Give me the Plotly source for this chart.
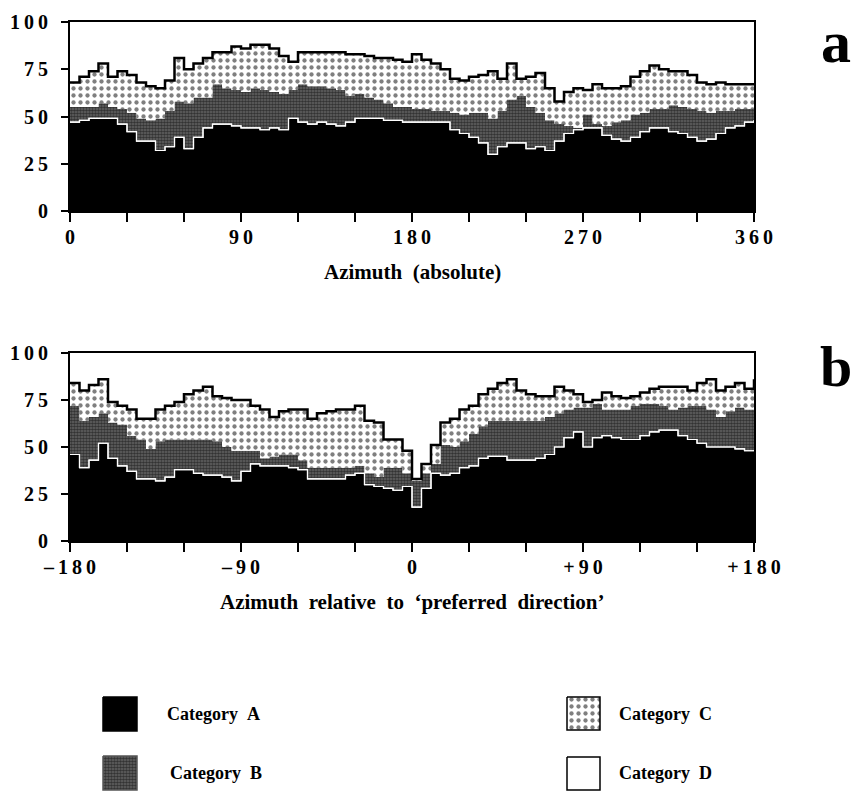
import plotly.graph_objects as go

# ---------------- data (percent) ----------------
# Panel a: absolute azimuth, 5-degree bins
deg_a = list(range(0, 361, 5))
# cumulative upper edge of Category A
a_upper_A = [47, 48, 49, 49, 49, 46, 42, 37, 37, 32, 34, 39, 33, 39, 44, 46, 46, 45, 44, 44,
             43, 44, 43, 49, 47, 46, 47, 46, 45, 47, 49, 49, 49, 48, 48, 47, 47, 47, 47, 47,
             43, 41, 39, 36, 30, 34, 36, 36, 33, 34, 32, 37, 41, 43, 44, 44, 40, 38, 37, 39,
             42, 44, 44, 42, 41, 39, 37, 38, 41, 44, 45, 47, 48]
# cumulative upper edge of Category A + B
a_upper_B = [55, 55, 55, 57, 55, 54, 52, 49, 48, 49, 53, 58, 57, 60, 60, 67, 65, 64, 63, 65,
             64, 63, 62, 64, 67, 66, 66, 65, 64, 61, 62, 60, 59, 57, 55, 55, 54, 54, 53, 53,
             52, 51, 52, 52, 49, 53, 59, 61, 55, 52, 48, 46, 45, 44, 51, 46, 45, 47, 48, 51,
             52, 54, 54, 56, 55, 54, 53, 52, 53, 53, 54, 54, 54]
# cumulative upper edge of Category A + B + C
a_upper_C = [68, 71, 74, 78, 71, 74, 72, 68, 66, 65, 69, 81, 75, 78, 81, 84, 84, 87, 86, 88,
             88, 86, 82, 79, 84, 84, 84, 84, 84, 83, 83, 82, 81, 81, 80, 79, 83, 80, 78, 75,
             70, 69, 71, 72, 74, 70, 78, 70, 71, 73, 65, 58, 63, 65, 64, 67, 65, 65, 66, 71,
             74, 77, 75, 74, 74, 72, 68, 67, 68, 67, 67, 67, 67]

# Panel b: azimuth relative to preferred direction, 5-degree bins
deg_b = list(range(-180, 181, 5))
b_upper_A = [46, 39, 43, 52, 44, 40, 37, 33, 33, 32, 34, 38, 38, 36, 35, 35, 34, 32, 37, 41,
             40, 40, 40, 39, 38, 33, 33, 33, 33, 35, 36, 30, 29, 28, 27, 29, 18, 28, 36, 35,
             36, 39, 40, 44, 45, 45, 43, 43, 43, 44, 46, 50, 55, 58, 50, 55, 56, 55, 54, 54,
             56, 58, 59, 59, 56, 54, 52, 50, 50, 50, 49, 48, 48]
b_upper_B = [72, 64, 66, 68, 63, 62, 56, 54, 49, 53, 54, 54, 54, 54, 54, 53, 50, 48, 48, 48,
             44, 45, 46, 46, 43, 39, 39, 39, 39, 39, 40, 36, 34, 39, 39, 36, 32, 36, 41, 51,
             50, 53, 57, 61, 64, 64, 64, 64, 64, 64, 66, 68, 70, 71, 71, 73, 70, 70, 70, 72,
             73, 73, 72, 70, 71, 72, 72, 70, 66, 69, 71, 70, 70]
b_upper_C = [84, 80, 83, 86, 74, 72, 70, 65, 65, 70, 72, 74, 78, 80, 82, 77, 76, 75, 75, 72,
             70, 66, 69, 70, 70, 65, 68, 69, 70, 70, 72, 64, 63, 54, 54, 48, 33, 41, 51, 63,
             65, 70, 72, 78, 81, 84, 86, 80, 78, 77, 77, 82, 80, 78, 74, 75, 79, 77, 76, 77,
             79, 81, 82, 82, 82, 80, 84, 86, 80, 82, 84, 81, 86]

x_ticks_a = list(range(0, 361, 30))
x_labels_a = {0: "0", 90: "90", 180: "180", 270: "270", 360: "360"}
x_ticks_b = list(range(-180, 181, 30))
x_labels_b = {-180: "\u2013180", -90: "\u201390", 0: "0", 90: "+90", 180: "+180"}
y_ticks = [0, 25, 50, 75, 100]

categories = ["Category A", "Category B", "Category C", "Category D"]

# ---------------- styling ----------------
OFF = 8                      # page body margin of the browser
W, H = 864 - OFF, 800 - OFF  # figure size so it fits the window
FONT = "Liberation Serif"
SP = "\u2009"
B_BG = "#666666"
PAT_B = dict(shape=".", fgcolor="#000000", bgcolor=B_BG, size=3, solidity=0.6)
PAT_C = dict(shape=".", fgcolor="#000000", bgcolor="#ffffff", size=7, solidity=0.3)


def spaced(s):
    return SP.join(list(s))


def px_x(p):  # window pixel -> paper fraction
    return (p - OFF) / W


def px_y(p):
    return 1 - (p - OFF) / H


fig = go.Figure()


def add_panel(x, upA, upB, upC, xa, ya):
    fig.add_trace(go.Scatter(x=x, y=upA, mode="lines", line=dict(color="white", width=1.2, shape="hv"),
                             fill="tozeroy", fillcolor="black", xaxis=xa, yaxis=ya,
                             showlegend=False, hoverinfo="skip"))
    fig.add_trace(go.Scatter(x=x, y=upB, mode="lines", line=dict(color="rgba(0,0,0,0)", width=0, shape="hv"),
                             fill="tonexty", fillpattern=PAT_B, fillcolor=B_BG, xaxis=xa, yaxis=ya,
                             showlegend=False, hoverinfo="skip"))
    fig.add_trace(go.Scatter(x=x, y=upC, mode="lines", line=dict(color="black", width=2.5, shape="hv"),
                             fill="tonexty", fillpattern=PAT_C, fillcolor="white", xaxis=xa, yaxis=ya,
                             showlegend=False, hoverinfo="skip"))
    fig.add_trace(go.Scatter(x=x, y=upA, mode="lines", line=dict(color="white", width=1.2, shape="hv"),
                             xaxis=xa, yaxis=ya, showlegend=False, hoverinfo="skip"))


add_panel(deg_a, a_upper_A, a_upper_B, a_upper_C, "x", "y")
add_panel(deg_b, b_upper_A, b_upper_B, b_upper_C, "x2", "y2")

tickfont = dict(family=FONT, size=20, color="black", weight="bold")
common_x = dict(ticks="outside", ticklen=9, tickwidth=2, tickcolor="black", showline=True, linewidth=2,
                linecolor="black", mirror=True, showgrid=False, zeroline=False, tickfont=tickfont,
                ticklabelstandoff=-2, automargin=False)
common_y = dict(ticks="outside", ticklen=7, tickwidth=2, tickcolor="black", showline=True, linewidth=2,
                linecolor="black", mirror=True, showgrid=False, zeroline=False, tickfont=tickfont,
                range=[0, 100], tickvals=y_ticks, ticktext=[spaced(str(v)) for v in y_ticks],
                ticklabelstandoff=9, automargin=False)

xdom = [px_x(70), px_x(754)]
fig.update_layout(
    xaxis=dict(domain=xdom, range=[0, 360], tickvals=x_ticks_a,
               ticktext=[spaced(x_labels_a.get(v, "")) for v in x_ticks_a], anchor="y", **common_x),
    yaxis=dict(domain=[px_y(211), px_y(22)], anchor="x", **common_y),
    xaxis2=dict(domain=xdom, range=[-180, 180], tickvals=x_ticks_b,
                ticktext=[spaced(x_labels_b.get(v, "")) for v in x_ticks_b], anchor="y2", **common_x),
    yaxis2=dict(domain=[px_y(541), px_y(353)], anchor="x2", **common_y),
    xaxis3=dict(domain=[0, 1], range=[OFF, OFF + W], visible=False, anchor="y3", automargin=False),
    yaxis3=dict(domain=[0, 160 / H], range=[OFF + H, OFF + H - 160], visible=False, anchor="x3",
                automargin=False),
)

# ---------------- legend swatches (window-pixel helper axis) ----------------
swatches = [
    (categories[0], 103, 137, 697, 731, "black", None, "black", 165, 714),
    (categories[1], 103, 137, 756, 790, B_BG, PAT_B, "#555555", 168, 773),
    (categories[2], 567, 600, 697, 730, "white", PAT_C, "black", 617, 714),
    (categories[3], 567, 600, 757, 790, "white", None, "black", 617, 773),
]
for name, x0, x1, y0, y1, fc, pat, lc, tx, ty in swatches:
    kw = dict(fillpattern=pat) if pat else {}
    fig.add_trace(go.Scatter(x=[x0, x1, x1, x0, x0], y=[y0, y0, y1, y1, y0], mode="lines",
                             fill="toself", fillcolor=fc, line=dict(color=lc, width=1.5),
                             xaxis="x3", yaxis="y3", showlegend=False, hoverinfo="skip", **kw))
    fig.add_annotation(x=tx, y=ty, xref="x3", yref="y3", text=name.replace(" ", "\u00a0\u00a0"),
                       showarrow=False, xanchor="left", yanchor="middle",
                       font=dict(family=FONT, size=18, color="black", weight="bold"))

NB = "\u00a0\u00a0"
titlefont = dict(family=FONT, size=21, color="black", weight="bold")
fig.add_annotation(x=px_x(412), y=px_y(272), xref="paper", yref="paper", showarrow=False,
                   xanchor="center", yanchor="middle",
                   text="Azimuth" + NB + "(absolute)", font=titlefont)
fig.add_annotation(x=px_x(412), y=px_y(602), xref="paper", yref="paper", showarrow=False,
                   xanchor="center", yanchor="middle",
                   text=NB.join(["Azimuth", "relative", "to", "\u2018preferred", "direction\u2019"]),
                   font=titlefont)
fig.add_annotation(x=px_x(836), y=px_y(42), xref="paper", yref="paper", showarrow=False,
                   xanchor="center", yanchor="middle",
                   text="a", font=dict(family=FONT, size=60, color="black", weight="bold"))
fig.add_annotation(x=px_x(836), y=px_y(366), xref="paper", yref="paper", showarrow=False,
                   xanchor="center", yanchor="middle",
                   text="b", font=dict(family=FONT, size=58, color="black", weight="bold"))

fig.update_layout(width=W, height=H, margin=dict(l=0, r=0, t=0, b=0, autoexpand=False),
                  paper_bgcolor="white", plot_bgcolor="white", showlegend=False)

fig.write_html("out.html")
